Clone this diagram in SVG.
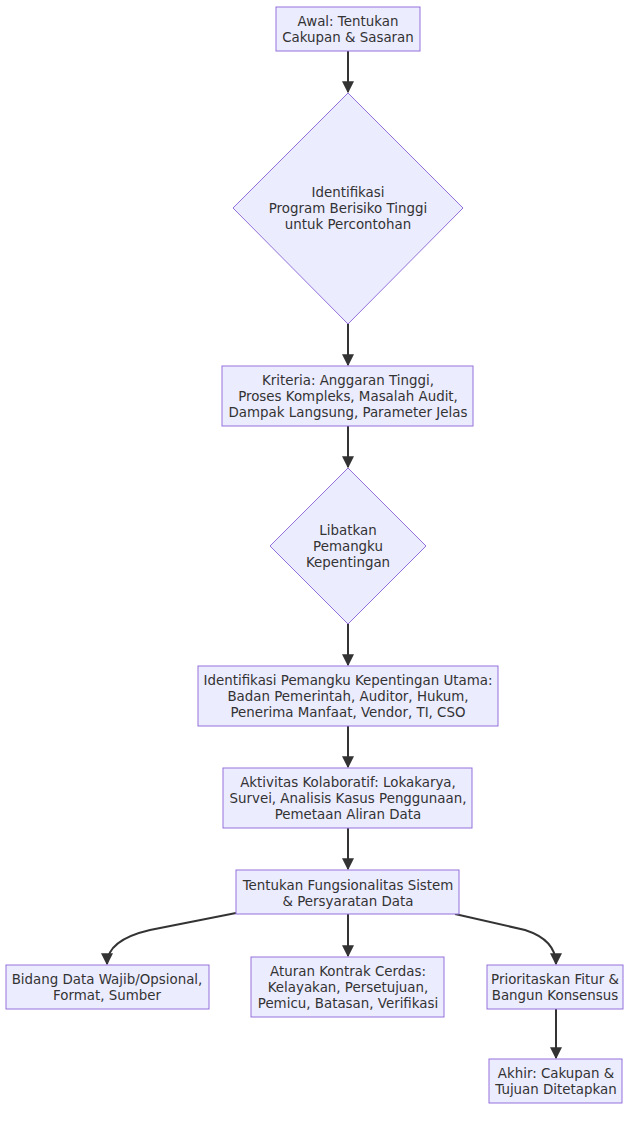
<svg xmlns="http://www.w3.org/2000/svg" width="640" height="1121" viewBox="0 0 640 1121">
<style>
.n{fill:#ECECFF;stroke:#9370DB;stroke-width:1}
.t{font-family:"DejaVu Sans",Verdana,sans-serif;font-size:13.4px;fill:#333;text-anchor:middle;dominant-baseline:central}
.e{fill:none;stroke:#333;stroke-width:2}
</style>
<defs>
<marker id="ah" viewBox="0 0 10 10" refX="9" refY="5" markerWidth="6" markerHeight="6" markerUnits="strokeWidth" orient="auto">
<path d="M0,0 L10,5 L0,10 z" fill="#333"/>
</marker>
</defs>
<rect width="640" height="1121" fill="#fff"/>
<g id="edges">
<path class="e" d="M348,51 L348,92" marker-end="url(#ah)"/>
<path class="e" d="M348,324 L348,365" marker-end="url(#ah)"/>
<path class="e" d="M348,426 L348,467" marker-end="url(#ah)"/>
<path class="e" d="M348,624 L348,665" marker-end="url(#ah)"/>
<path class="e" d="M348,726 L348,767" marker-end="url(#ah)"/>
<path class="e" d="M348,828 L348,869" marker-end="url(#ah)"/>
<path class="e" d="M348,914 L348,956" marker-end="url(#ah)"/>
<path class="e" d="M236,913 L150,930 Q107,940 107,964" marker-end="url(#ah)"/>
<path class="e" d="M455,914 L525,930 Q556,940 556,964" marker-end="url(#ah)"/>
<path class="e" d="M556,1009 L556,1058" marker-end="url(#ah)"/>
</g>
<g id="A"><rect class="n" x="276" y="7" width="144" height="44"/><text class="t" x="348" y="21">Awal: Tentukan</text><text class="t" x="348" y="37">Cakupan &amp; Sasaran</text></g>
<g id="B"><polygon class="n" points="348,93 463,208 348,324 233,208"/><text class="t" x="348" y="192">Identifikasi</text><text class="t" x="348" y="208">Program Berisiko Tinggi</text><text class="t" x="348" y="224">untuk Percontohan</text></g>
<g id="C"><rect class="n" x="222" y="366" width="251" height="60"/><text class="t" x="348" y="380">Kriteria: Anggaran Tinggi,</text><text class="t" x="348" y="396">Proses Kompleks, Masalah Audit,</text><text class="t" x="348" y="412">Dampak Langsung, Parameter Jelas</text></g>
<g id="D"><polygon class="n" points="348,468 426,546 348,624 270,546"/><text class="t" x="348" y="530">Libatkan</text><text class="t" x="348" y="546">Pemangku</text><text class="t" x="348" y="562">Kepentingan</text></g>
<g id="E"><rect class="n" x="198" y="666" width="300" height="60"/><text class="t" x="348" y="680">Identifikasi Pemangku Kepentingan Utama:</text><text class="t" x="348" y="696">Badan Pemerintah, Auditor, Hukum,</text><text class="t" x="348" y="712">Penerima Manfaat, Vendor, TI, CSO</text></g>
<g id="F"><rect class="n" x="223" y="768" width="249" height="60"/><text class="t" x="348" y="782">Aktivitas Kolaboratif: Lokakarya,</text><text class="t" x="348" y="798">Survei, Analisis Kasus Penggunaan,</text><text class="t" x="348" y="814">Pemetaan Aliran Data</text></g>
<g id="G"><rect class="n" x="236" y="870" width="223" height="44"/><text class="t" x="348" y="885">Tentukan Fungsionalitas Sistem</text><text class="t" x="348" y="901">&amp; Persyaratan Data</text></g>
<g id="H"><rect class="n" x="6" y="965" width="203" height="44"/><text class="t" x="107" y="979">Bidang Data Wajib/Opsional,</text><text class="t" x="107" y="995">Format, Sumber</text></g>
<g id="I"><rect class="n" x="251" y="957" width="193" height="60"/><text class="t" x="348" y="971">Aturan Kontrak Cerdas:</text><text class="t" x="348" y="987">Kelayakan, Persetujuan,</text><text class="t" x="348" y="1003">Pemicu, Batasan, Verifikasi</text></g>
<g id="J"><rect class="n" x="487" y="965" width="136" height="44"/><text class="t" x="555" y="979">Prioritaskan Fitur &amp;</text><text class="t" x="555" y="995">Bangun Konsensus</text></g>
<g id="K"><rect class="n" x="489" y="1059" width="133" height="44"/><text class="t" x="556" y="1073">Akhir: Cakupan &amp;</text><text class="t" x="556" y="1089">Tujuan Ditetapkan</text></g>
</svg>
